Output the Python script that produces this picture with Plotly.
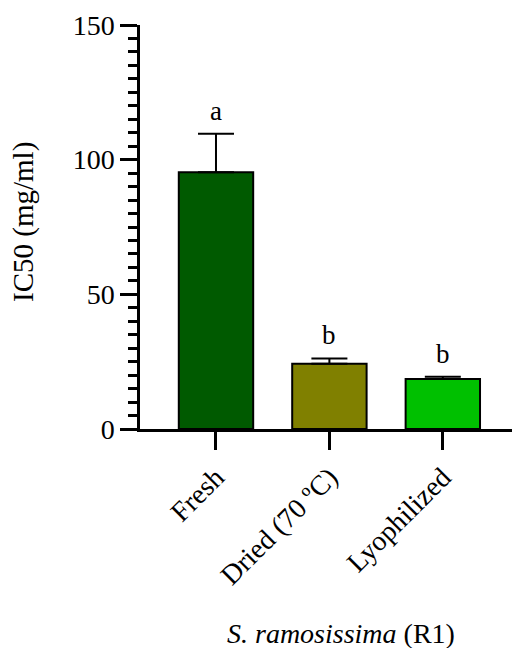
import plotly.graph_objects as go

categories = ["Fresh", "Dried (70 ºC)", "Lyophilized"]
means = [95.3, 24.2, 18.6]
sds = [14.3, 2.0, 0.8]
letters = ["a", "b", "b"]
colors = ["#005a00", "#808000", "#00c000"]
y_ticks = [0, 50, 100, 150]

FONT = "Liberation Serif, Times New Roman, serif"

fig = go.Figure()
fig.add_trace(go.Bar(
    x=categories, y=means, width=0.656,
    marker=dict(color=colors, line=dict(color="black", width=2)),
    error_y=dict(type="data", array=sds, arrayminus=[0] * len(sds), symmetric=False,
                 color="black", thickness=2, width=18),
    showlegend=False,
))

for c, m, s, l in zip(categories, means, sds, letters):
    fig.add_annotation(x=c, y=m + s, text=l, showarrow=False, yanchor="bottom",
                       yshift=6, font=dict(family=FONT, size=27, color="black"))

fig.add_annotation(xref="paper", yref="paper", x=(23 - 140) / 372, y=(429 - 222) / 404,
                   text="IC50 (mg/ml)", textangle=-90, showarrow=False,
                   xanchor="center", yanchor="middle",
                   font=dict(family=FONT, size=29, color="black"))
fig.add_annotation(xref="paper", yref="paper", x=(341 - 140) / 372, y=(429 - 633) / 404,
                   text="<i>S. ramosissima</i> (R1)", showarrow=False,
                   xanchor="center", yanchor="middle",
                   font=dict(family=FONT, size=28, color="black"))

fig.update_layout(
    width=512, height=648,
    margin=dict(l=140, r=0, t=25, b=219),
    plot_bgcolor="white", paper_bgcolor="white",
    font=dict(family=FONT, size=28, color="black"),
    xaxis=dict(range=[-0.67, 2.61], showline=True, linecolor="black", linewidth=2.5,
               ticks="outside", ticklen=18, tickwidth=2.5, tickcolor="black",
               tickangle=-45, showgrid=False, zeroline=False,
               tickfont=dict(family=FONT, size=28)),
    yaxis=dict(range=[0, 150], tickvals=y_ticks, showline=True, linecolor="black",
               linewidth=2.5, ticks="outside", ticklen=17, tickwidth=2.5,
               tickcolor="black", showgrid=False, zeroline=False,
               minor=dict(dtick=5, ticks="outside", ticklen=9, tickwidth=2.5,
                          tickcolor="black", showgrid=False),
               tickfont=dict(family=FONT, size=28)),
)

fig.write_html("out.html")
